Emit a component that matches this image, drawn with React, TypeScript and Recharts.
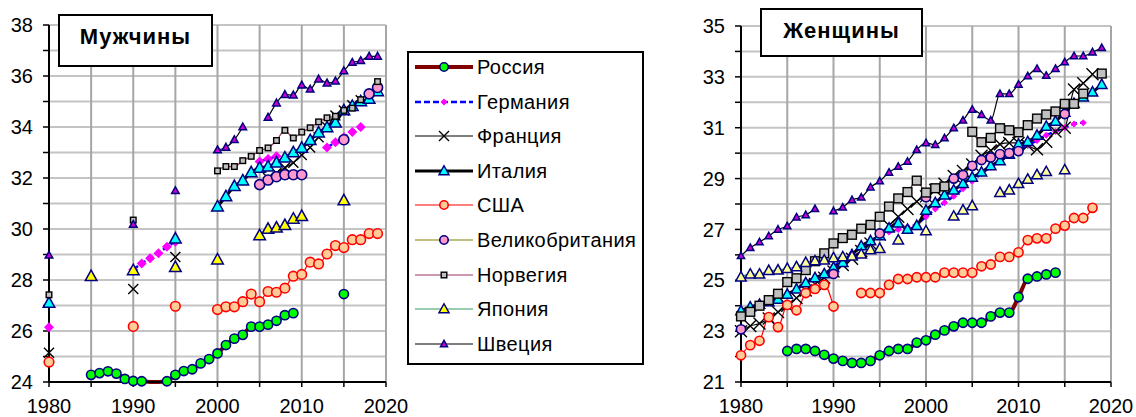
import React from "react";
import { LineChart, Line, XAxis, YAxis, CartesianGrid } from "recharts";

// years on the x axis
const YEARS = Array.from({ length: 40 }, (_, i) => 1980 + i);
const X_TICKS = [1980, 1985, 1990, 1995, 2000, 2005, 2010, 2015, 2020];
const MEN_Y_TICKS = [24, 25, 26, 27, 28, 29, 30, 31, 32, 33, 34, 35, 36, 37, 38];
const WOMEN_Y_TICKS = [21, 22, 23, 24, 25, 26, 27, 28, 29, 30, 31, 32, 33, 34, 35];

type Pt = [number, number];

// ---- Мужчины ----
const M_RUSSIA: Pt[] = [[1985, 24.28], [1986, 24.35], [1987, 24.42], [1988, 24.33], [1989, 24.12], [1990, 24.04], [1991, 24.03], [1992, 23.85], [1993, 23.85], [1994, 24.03], [1995, 24.28], [1996, 24.43], [1997, 24.5], [1998, 24.73], [1999, 24.9], [2000, 25.12], [2001, 25.45], [2002, 25.7], [2003, 25.85], [2004, 26.17], [2005, 26.17], [2006, 26.25], [2007, 26.4], [2008, 26.62], [2009, 26.7], [2015, 27.45]];
const M_GERMANY: Pt[] = [[1980, 26.15], [1990, 28.4], [1991, 28.65], [1992, 28.85], [1993, 29.05], [1994, 29.3], [1995, 29.5], [2005, 32.65], [2006, 32.75], [2007, 32.85], [2013, 33.2], [2014, 33.4], [2015, 33.6], [2016, 33.8], [2017, 34.0]];
const M_FRANCE: Pt[] = [[1980, 25.15], [1990, 27.65], [1995, 28.9], [2006, 32.0], [2007, 32.2], [2008, 32.4], [2009, 32.6], [2010, 32.9], [2011, 33.2], [2012, 33.6], [2013, 34.0], [2014, 34.45], [2015, 34.65], [2016, 34.85], [2017, 35.05]];
const M_ITALY: Pt[] = [[1980, 27.1], [1995, 29.62], [2000, 30.88], [2001, 31.28], [2002, 31.68], [2003, 31.9], [2004, 32.22], [2005, 32.4], [2006, 32.45], [2007, 32.6], [2008, 32.8], [2009, 33.0], [2010, 33.18], [2011, 33.48], [2012, 33.78], [2013, 33.98], [2014, 34.17], [2015, 34.65], [2016, 34.82], [2017, 35.0], [2018, 35.1], [2019, 35.4]];
const M_USA: Pt[] = [[1980, 24.78], [1990, 26.18], [1995, 26.97], [2000, 26.84], [2001, 26.95], [2002, 26.95], [2003, 27.15], [2004, 27.45], [2005, 27.15], [2006, 27.55], [2007, 27.52], [2008, 27.68], [2009, 28.15], [2010, 28.22], [2011, 28.7], [2012, 28.63], [2013, 29.02], [2014, 29.35], [2015, 29.27], [2016, 29.58], [2017, 29.58], [2018, 29.82], [2019, 29.82]];
const M_UK: Pt[] = [[2005, 31.74], [2006, 31.92], [2007, 32.05], [2008, 32.13], [2009, 32.13], [2010, 32.13], [2015, 33.5], [2018, 35.3], [2019, 35.55]];
const M_NORWAY: Pt[] = [[1980, 27.42], [1990, 30.35], [2000, 32.28], [2001, 32.45], [2002, 32.45], [2003, 32.68], [2004, 32.85], [2005, 33.08], [2006, 33.18], [2007, 33.47], [2008, 33.87], [2009, 33.57], [2010, 33.8], [2011, 33.97], [2012, 34.2], [2013, 34.36], [2014, 34.42], [2015, 34.65], [2016, 34.74], [2017, 35.07], [2019, 35.78]];
const M_JAPAN: Pt[] = [[1985, 28.15], [1990, 28.38], [1995, 28.5], [2000, 28.8], [2005, 29.75], [2006, 30.0], [2007, 30.05], [2008, 30.15], [2009, 30.4], [2010, 30.5], [2015, 31.12]];
const M_SWEDEN: Pt[] = [[1980, 28.97], [1990, 30.18], [1995, 31.5], [2000, 33.1], [2001, 33.2], [2002, 33.5], [2003, 34.0], [2006, 34.38], [2007, 34.94], [2008, 35.27], [2009, 35.25], [2010, 35.64], [2011, 35.48], [2012, 35.88], [2013, 35.72], [2014, 35.8], [2015, 36.2], [2016, 36.53], [2017, 36.6], [2018, 36.77], [2019, 36.77]];

// ---- Женщины ----
const W_RUSSIA: Pt[] = [[1985, 22.22], [1986, 22.3], [1987, 22.3], [1988, 22.22], [1989, 22.07], [1990, 21.92], [1991, 21.83], [1992, 21.75], [1993, 21.75], [1994, 21.83], [1995, 22.05], [1996, 22.22], [1997, 22.3], [1998, 22.3], [1999, 22.55], [2000, 22.64], [2001, 22.86], [2002, 23.03], [2003, 23.19], [2004, 23.33], [2005, 23.33], [2006, 23.33], [2007, 23.58], [2008, 23.73], [2009, 23.73], [2010, 24.34], [2011, 25.06], [2012, 25.15], [2013, 25.23], [2014, 25.3]];
const W_GERMANY: Pt[] = [[1990, 25.55], [1991, 25.8], [1992, 26.05], [1993, 26.3], [1994, 26.55], [1995, 26.75], [1996, 26.9], [1997, 27.0], [1998, 27.1], [1999, 27.2], [2000, 27.5], [2001, 27.8], [2002, 28.05], [2003, 28.3], [2004, 28.6], [2005, 28.9], [2006, 29.2], [2007, 29.45], [2008, 29.7], [2009, 29.9], [2010, 30.1], [2011, 30.3], [2012, 30.5], [2013, 30.7], [2014, 30.85], [2015, 31.0], [2016, 31.15], [2017, 31.2]];
const W_FRANCE: Pt[] = [[1980, 23.0], [1981, 23.2], [1982, 23.3], [1983, 23.5], [1984, 23.75], [1985, 24.0], [1986, 24.3], [1987, 24.6], [1988, 24.85], [1989, 25.1], [1990, 25.35], [1991, 25.6], [1992, 25.85], [1993, 26.15], [1994, 26.45], [1995, 26.8], [1996, 27.15], [1997, 27.5], [1998, 27.8], [1999, 28.1], [2000, 28.3], [2001, 28.55], [2002, 28.8], [2003, 29.1], [2004, 29.3], [2005, 29.55], [2006, 29.9], [2007, 30.1], [2008, 30.35], [2009, 30.4], [2010, 30.4], [2011, 30.3], [2012, 30.15], [2013, 30.45], [2014, 30.85], [2015, 31.0], [2016, 32.5], [2017, 32.75], [2018, 33.1]];
const W_ITALY: Pt[] = [[1980, 23.8], [1981, 23.95], [1982, 24.05], [1983, 24.15], [1984, 24.25], [1985, 24.45], [1986, 24.65], [1987, 24.9], [1988, 25.1], [1989, 25.25], [1990, 25.5], [1991, 25.7], [1992, 26.0], [1993, 26.35], [1994, 26.55], [1995, 26.75], [1996, 27.05], [1997, 27.25], [1998, 27.0], [1999, 27.15], [2000, 27.75], [2001, 28.05], [2002, 28.35], [2003, 28.55], [2004, 28.8], [2005, 29.05], [2006, 29.25], [2007, 29.5], [2008, 29.7], [2009, 29.95], [2010, 30.35], [2011, 30.45], [2012, 30.7], [2013, 31.05], [2014, 31.25], [2015, 31.6], [2016, 31.95], [2017, 32.2], [2018, 32.4], [2019, 32.7]];
const W_USA: Pt[] = [[1980, 22.05], [1981, 22.45], [1982, 22.62], [1983, 23.55], [1984, 23.16], [1985, 24.03], [1986, 23.82], [1987, 24.5], [1988, 24.66], [1989, 24.82], [1990, 23.97], [1993, 24.5], [1994, 24.5], [1995, 24.5], [1996, 24.82], [1997, 25.05], [1998, 25.05], [1999, 25.12], [2000, 25.12], [2001, 25.12], [2002, 25.3], [2003, 25.3], [2004, 25.3], [2005, 25.3], [2006, 25.55], [2007, 25.62], [2008, 25.92], [2009, 25.92], [2010, 26.1], [2011, 26.58], [2012, 26.65], [2013, 26.65], [2014, 27.03], [2015, 27.15], [2016, 27.45], [2017, 27.45], [2018, 27.85]];
const W_UK: Pt[] = [[1980, 23.07], [1990, 25.25], [1995, 26.84], [2000, 28.27], [2003, 29.0], [2004, 29.14], [2005, 29.5], [2006, 29.73], [2007, 29.83], [2008, 29.96], [2009, 30.0], [2010, 30.08], [2015, 31.54]];
const W_NORWAY: Pt[] = [[1980, 23.58], [1981, 23.76], [1982, 24.0], [1983, 24.22], [1984, 24.47], [1985, 24.93], [1986, 25.08], [1987, 25.4], [1988, 25.75], [1989, 26.06], [1990, 26.45], [1991, 26.66], [1992, 26.79], [1993, 27.03], [1994, 27.18], [1995, 27.5], [1996, 27.9], [1997, 28.22], [1998, 28.47], [1999, 28.92], [2000, 28.45], [2001, 28.62], [2002, 28.69], [2005, 30.84], [2006, 30.43], [2007, 30.6], [2008, 30.98], [2009, 30.9], [2010, 30.82], [2011, 31.1], [2012, 31.36], [2013, 31.52], [2014, 31.64], [2015, 31.94], [2016, 31.94], [2017, 32.34], [2019, 33.13]];
const W_JAPAN: Pt[] = [[1980, 25.13], [1981, 25.24], [1982, 25.24], [1983, 25.38], [1984, 25.4], [1985, 25.46], [1986, 25.53], [1987, 25.7], [1988, 25.76], [1989, 25.79], [1990, 25.88], [1991, 25.92], [1992, 25.95], [1993, 26.03], [1994, 26.2], [1995, 26.25], [1997, 26.58], [2000, 26.94], [2003, 27.52], [2004, 27.76], [2005, 27.93], [2008, 28.45], [2009, 28.55], [2010, 28.8], [2011, 28.97], [2012, 29.15], [2013, 29.27], [2015, 29.34]];
const W_SWEDEN: Pt[] = [[1980, 25.96], [1981, 26.28], [1982, 26.5], [1983, 26.74], [1984, 27.0], [1985, 27.13], [1986, 27.48], [1987, 27.57], [1988, 27.81], [1990, 27.72], [1991, 27.87], [1992, 28.16], [1993, 28.26], [1994, 28.66], [1995, 28.9], [1996, 29.24], [1997, 29.47], [1998, 29.67], [1999, 30.13], [2000, 30.4], [2001, 30.33], [2002, 30.59], [2003, 30.99], [2004, 31.29], [2005, 31.71], [2006, 31.51], [2007, 31.29], [2008, 32.33], [2009, 32.33], [2010, 32.7], [2011, 33.03], [2012, 33.32], [2013, 33.05], [2014, 33.32], [2015, 33.58], [2016, 33.82], [2017, 33.82], [2018, 33.97], [2019, 34.14]];

type Marker = (cx: number, cy: number) => React.ReactElement;

const circle = (r: number, fill: string, stroke: string): Marker => (cx, cy) => (
  <circle cx={cx} cy={cy} r={r} fill={fill} stroke={stroke} strokeWidth={1.6} />
);
const diamond = (h: number, fill: string): Marker => (cx, cy) => (
  <polygon points={`${cx},${cy - h} ${cx + h},${cy} ${cx},${cy + h} ${cx - h},${cy}`} fill={fill} />
);
const cross = (h: number): Marker => (cx, cy) => (
  <path d={`M${cx - h},${cy - h}L${cx + h},${cy + h}M${cx - h},${cy + h}L${cx + h},${cy - h}`} stroke="#000" strokeWidth={1.4} fill="none" />
);
const tri = (w: number, fill: string): Marker => (cx, cy) => (
  <polygon points={`${cx},${cy - w * 1.05} ${cx + w},${cy + w * 0.75} ${cx - w},${cy + w * 0.75}`} fill={fill} stroke="#000080" strokeWidth={1.5} />
);
const square = (h: number, fill: string): Marker => (cx, cy) => (
  <rect x={cx - h} y={cy - h} width={2 * h} height={2 * h} fill={fill} stroke="#000" strokeWidth={1.4} />
);

interface Series {
  key: string;
  name: string;
  stroke: string;
  width: number;
  dash?: string;
  menData: Pt[];
  womenData: Pt[];
  menMarker: Marker;
  womenMarker: Marker;
  legendMarker: Marker;
}

const SERIES: Series[] = [
  { key: "rus", name: "Россия", stroke: "#800000", width: 4, menData: M_RUSSIA, womenData: W_RUSSIA,
    menMarker: circle(4.6, "#00ff00", "#000080"), womenMarker: circle(4.6, "#00ff00", "#000080"), legendMarker: circle(4.2, "#00ff00", "#000080") },
  { key: "ger", name: "Германия", stroke: "#0000ff", width: 2.5, dash: "6 3", menData: M_GERMANY, womenData: W_GERMANY,
    menMarker: diamond(5, "#ff00ff"), womenMarker: diamond(3.5, "#ff00ff"), legendMarker: diamond(3.5, "#ff00ff") },
  { key: "fra", name: "Франция", stroke: "#000000", width: 1.2, menData: M_FRANCE, womenData: W_FRANCE,
    menMarker: cross(5), womenMarker: cross(6), legendMarker: cross(5) },
  { key: "ita", name: "Италия", stroke: "#000000", width: 3, menData: M_ITALY, womenData: W_ITALY,
    menMarker: tri(5.8, "#00ffff"), womenMarker: tri(5.2, "#00ffff"), legendMarker: tri(5, "#00ffff") },
  { key: "usa", name: "США", stroke: "#ff0000", width: 1.2, menData: M_USA, womenData: W_USA,
    menMarker: circle(4.8, "#ffcc99", "#ff0000"), womenMarker: circle(4.6, "#ffcc99", "#ff0000"), legendMarker: circle(4.2, "#ffcc99", "#ff0000") },
  { key: "uk", name: "Великобритания", stroke: "#808000", width: 1.2, menData: M_UK, womenData: W_UK,
    menMarker: circle(5, "#ff99cc", "#000080"), womenMarker: circle(4.6, "#ff99cc", "#000080"), legendMarker: circle(4.2, "#ff99cc", "#000080") },
  { key: "nor", name: "Норвегия", stroke: "#993366", width: 1.2, menData: M_NORWAY, womenData: W_NORWAY,
    menMarker: square(2.8, "#c0c0c0"), womenMarker: square(4.4, "#c0c0c0"), legendMarker: square(2.8, "#c0c0c0") },
  { key: "jpn", name: "Япония", stroke: "#339966", width: 1.2, menData: M_JAPAN, womenData: W_JAPAN,
    menMarker: tri(5.8, "#ffff00"), womenMarker: tri(5.2, "#ffff99"), legendMarker: tri(5, "#ffff00") },
  { key: "swe", name: "Швеция", stroke: "#000000", width: 1.2, menData: M_SWEDEN, womenData: W_SWEDEN,
    menMarker: tri(3.8, "#cc00cc"), womenMarker: tri(3.6, "#cc00cc"), legendMarker: tri(3.5, "#cc00cc") },
];

// values below the axis floor are pinned to it (like the clipped original) and get no marker
function buildRows(pick: (s: Series) => Pt[], floor: number) {
  return YEARS.map((year) => {
    const row: Record<string, number | boolean | null> = { year };
    SERIES.forEach((s) => {
      const hit = pick(s).find((p) => p[0] === year);
      row[s.key] = hit ? Math.max(hit[1], floor) : null;
      row[s.key + "_out"] = hit ? hit[1] < floor : false;
    });
    return row;
  });
}

const MEN_ROWS = buildRows((s) => s.menData, MEN_Y_TICKS[0]);
const WOMEN_ROWS = buildRows((s) => s.womenData, WOMEN_Y_TICKS[0]);

const FONT = "'Liberation Sans', Arial, sans-serif";
const tickStyle = { fontSize: 20, fill: "#000", fontFamily: FONT };

function renderDot(marker: Marker, key: string) {
  return (p: any) => {
    if (p.cx == null || p.cy == null || p.value == null || (p.payload && p.payload[key + "_out"])) {
      return <g key={p.index} />;
    }
    return <g key={p.index}>{marker(p.cx, p.cy)}</g>;
  };
}

function Panel({ rows, yTicks, women, left, width, yWidth, right }: {
  rows: any[]; yTicks: number[]; women: boolean; left: number; width: number; yWidth: number; right: number;
}) {
  const odd = women ? 1 : 0;
  return (
    <div style={{ position: "absolute", left, top: 0 }}>
      <LineChart width={width} height={417} data={rows} margin={{ top: 25 + (women ? 1 : 0), right, bottom: 5, left: 0 }}>
        <CartesianGrid vertical={false} stroke="#c4c4c4" strokeWidth={2} />
        <CartesianGrid horizontal={false} stroke="#a6a6a6" strokeWidth={2} />
        <XAxis
          dataKey="year" type="number" domain={[1980, 2020]} ticks={X_TICKS}
          tickFormatter={(v: number) => (v % 10 === 0 ? String(v) : "")}
          tick={tickStyle} tickSize={5} tickMargin={12} height={30}
          axisLine={{ stroke: "#000", strokeWidth: 2 }} tickLine={{ stroke: "#000", strokeWidth: 1.5 }}
        />
        <YAxis
          type="number" domain={[yTicks[0], yTicks[yTicks.length - 1]]} ticks={yTicks}
          tickFormatter={(v: number) => (Math.abs(v % 2) === odd ? String(v) : "")}
          tick={tickStyle} tickSize={6} tickMargin={10} width={yWidth}
          axisLine={{ stroke: "#000", strokeWidth: 2 }} tickLine={{ stroke: "#000", strokeWidth: 1.5 }}
        />
        {SERIES.map((s) => (
          <Line
            key={s.key} dataKey={s.key} type="monotone" stroke={s.stroke} strokeWidth={s.width}
            strokeDasharray={s.dash} connectNulls={false} isAnimationActive={false}
            dot={renderDot(women ? s.womenMarker : s.menMarker, s.key)} activeDot={false}
          />
        ))}
      </LineChart>
    </div>
  );
}

function LegendBox() {
  return (
    <div style={{ position: "absolute", left: 407, top: 51, width: 233, height: 310, border: "2px solid #000", background: "#fff" }}>
      {SERIES.map((s, i) => {
        const cy = 14 + i * 34.6;
        return (
          <div key={s.key} style={{ position: "absolute", left: 0, top: cy - 14, height: 28, width: 233 }}>
            <svg width={64} height={28} style={{ position: "absolute", left: 4, top: 0 }}>
              <line x1={2} x2={60} y1={14} y2={14} stroke={s.stroke} strokeWidth={s.width} strokeDasharray={s.dash} />
              {s.legendMarker(31, 14)}
            </svg>
            <span style={{ position: "absolute", left: 68, top: 2, fontSize: 20, letterSpacing: 0.4, fontFamily: FONT, lineHeight: "24px", whiteSpace: "nowrap" }}>
              {s.name}
            </span>
          </div>
        );
      })}
    </div>
  );
}

function TitleBox({ text, left, top, width, height }: { text: string; left: number; top: number; width: number; height: number }) {
  return (
    <div style={{
      position: "absolute", left, top, width, height, border: "2px solid #000", background: "#fff",
      boxSizing: "border-box", fontFamily: FONT, fontWeight: "bold", fontSize: 22, letterSpacing: 1,
      textAlign: "center", paddingTop: 8, lineHeight: "26px",
    }}>
      {text}
    </div>
  );
}

export default function App() {
  return (
    <div style={{ position: "absolute", left: 0, top: 0, width: 1136, height: 417, background: "#fff", overflow: "hidden" }}>
      <Panel rows={MEN_ROWS} yTicks={MEN_Y_TICKS} women={false} left={0} width={420} yWidth={49} right={34} />
      <Panel rows={WOMEN_ROWS} yTicks={WOMEN_Y_TICKS} women left={650} width={486} yWidth={91} right={25} />
      <LegendBox />
      <TitleBox text="Мужчины" left={58} top={14} width={155} height={53} />
      <TitleBox text="Женщины" left={760} top={8} width={163} height={49} />
    </div>
  );
}
